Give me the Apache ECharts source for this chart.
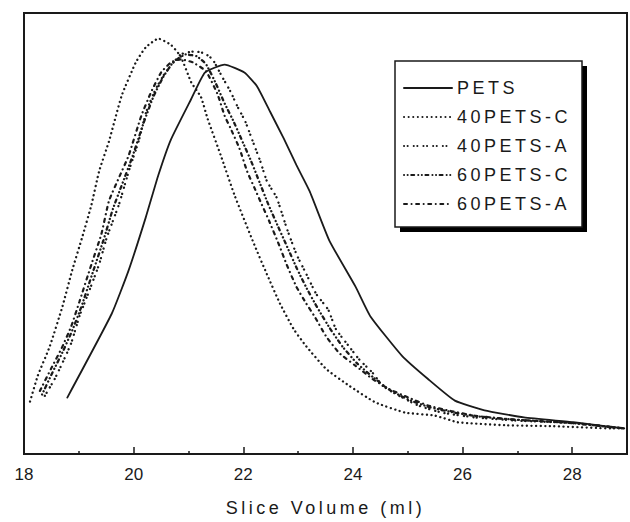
<!DOCTYPE html>
<html>
<head>
<meta charset="utf-8">
<script src="https://cdn.jsdelivr.net/npm/echarts@6/dist/echarts.min.js"></script>
<style>
html,body{margin:0;padding:0;background:#fff;}
#c{width:630px;height:522px;}
#c text[style*="18px"]{letter-spacing:3.5px;}
</style>
</head>
<body>
<div id="c"></div>
<script>
// Slice volume (ml) and relative detector response (0-100, no y scale shown)
const seriesNames = ['PETS', '40PETS-C', '40PETS-A', '60PETS-C', '60PETS-A'];
const xTicks = [18, 20, 22, 24, 26, 28];

const petsX = [18.79,19.60,19.91,20.22,20.45,20.68,21.05,21.30,21.66,22.02,22.25,22.49,22.74,22.97,23.21,23.57,24.05,24.32,24.90,25.37,25.86,26.40,27.12,28.02,28.74,28.95];
const petsY = [12.8,31.8,41.7,53.6,63.2,71.3,80.5,86.5,88.3,86.5,83.4,77.6,71.5,65.5,59.6,48.4,37.9,31.2,22.2,17.0,12.1,9.9,8.3,7.2,6.1,5.8];

const p40cX = [18.11,18.25,18.47,18.70,18.88,19.06,19.23,19.37,19.55,19.78,20.04,20.22,20.45,20.68,20.86,21.05,21.23,21.35,21.59,21.84,22.20,22.43,22.67,22.92,23.15,23.51,23.93,24.41,24.95,25.50,25.91,26.81,27.66,28.74,28.95];
const p40cY = [11.9,17.7,24.4,33.4,41.7,49.1,56.5,64.1,70.9,81.2,88.8,92.2,94.2,92.8,90.1,84.3,80.9,76.0,67.7,58.7,47.5,40.8,34.1,28.3,24.4,19.3,15.5,11.7,9.4,8.7,7.2,6.5,6.3,5.8,5.8];

const p40aX = [18.38,18.56,18.70,18.86,19.01,19.15,19.37,19.51,19.73,19.91,20.09,20.23,20.40,20.58,20.86,21.12,21.30,21.44,21.62,21.77,21.89,22.04,22.20,22.31,22.43,22.61,22.79,22.97,23.15,23.33,23.55,23.69,23.93,24.11,24.36,24.54,24.77,25.19,25.62,26.22,26.94,28.02,28.95];
const p40aY = [13.2,17.0,20.6,25.1,31.2,35.7,43.0,49.1,56.5,64.1,70.9,77.6,82.7,86.5,90.6,91.3,90.8,89.5,85.4,82.1,78.9,75.3,70.0,66.4,61.9,58.1,51.3,45.3,40.8,36.3,32.7,28.3,24.4,21.5,18.4,15.5,13.7,11.0,9.4,8.3,7.6,7.0,5.8];

const p60cX = [18.33,18.52,18.70,18.88,19.05,19.25,19.45,19.62,19.80,19.98,20.18,20.36,20.54,20.72,20.95,21.15,21.32,21.50,21.66,21.82,21.98,22.14,22.30,22.46,22.62,22.80,22.98,23.16,23.36,23.58,23.82,24.08,24.36,24.66,25.00,25.40,25.80,26.30,26.94,28.02,28.95];
const p60cY = [13.5,18.5,23.0,28.0,33.5,41.0,48.5,55.5,61.5,67.5,75.0,81.0,85.5,88.8,90.6,90.2,88.4,84.0,79.5,75.5,71.0,66.5,61.5,56.5,52.0,47.0,42.0,37.5,33.0,28.5,24.2,20.5,17.5,14.6,12.4,10.6,9.5,8.5,7.8,7.0,5.8];

const p60aX = [18.29,18.50,18.68,18.86,19.01,19.23,19.41,19.55,19.73,19.91,20.14,20.32,20.50,20.68,20.86,21.08,21.32,21.53,21.66,21.77,21.93,22.07,22.22,22.34,22.47,22.65,22.79,22.97,23.15,23.30,23.51,23.75,24.05,24.36,24.65,25.01,25.37,25.73,26.22,26.94,28.02,28.95];
const p60aY = [14.3,19.5,23.8,28.9,34.5,43.0,49.8,57.4,62.6,67.7,76.7,82.1,86.5,88.8,89.5,88.8,86.8,81.6,76.7,73.8,69.3,64.1,59.9,56.5,52.9,47.5,43.0,37.9,34.1,31.2,26.7,22.9,20.0,17.0,14.8,12.8,11.0,9.9,8.7,7.8,7.0,5.8];

const xsList = [petsX, p40cX, p40aX, p60cX, p60aX];
const ysList = [petsY, p40cY, p40aY, p60cY, p60aY];
const dashes = ['solid', [0.1, 4.5], [0.1, 3.5, 0.1, 6], [0.1, 3.5, 0.1, 3.5, 3, 4], [3, 4.5, 0.1, 4.5]];
const widths = [1.8, 2.3, 2.3, 2.3, 2.2];

const chart = echarts.init(document.getElementById('c'), null, {renderer: 'svg'});
const series = seriesNames.map((n, i) => ({
  name: n,
  type: 'line',
  symbol: 'none',
  smooth: 0.15,
  data: xsList[i].map((x, j) => [x, ysList[i][j]]),
  lineStyle: {color: '#1a1a1a', width: widths[i], type: dashes[i], cap: 'round'},
  itemStyle: {color: '#1a1a1a'}
}));

chart.setOption({
  animation: false,
  backgroundColor: '#fff',
  grid: {left: 24, right: -4, top: 13, bottom: 63, show: true, borderColor: '#1a1a1a', borderWidth: 2},
  xAxis: {
    type: 'value', min: 18, max: 29, interval: 2,
    name: 'Slice Volume (ml)', nameLocation: 'middle', nameGap: 45,
    nameTextStyle: {fontSize: 18, fontFamily: 'Liberation Sans', color: '#1a1a1a'},
    axisLine: {show: true, lineStyle: {color: '#1a1a1a', width: 2}},
    axisTick: {show: true, inside: true, length: 7, lineStyle: {color: '#1a1a1a', width: 1.5}},
    minorTick: {show: true, splitNumber: 2, length: 3, lineStyle: {color: '#1a1a1a', width: 1.5}},
    axisLabel: {fontSize: 17, fontFamily: 'Liberation Sans', color: '#1a1a1a', margin: 12,
      formatter: v => xTicks.includes(v) ? String(v) : ''},
    splitLine: {show: false}
  },
  yAxis: {
    type: 'value', min: 0, max: 100,
    axisLine: {show: true, lineStyle: {color: '#1a1a1a', width: 2}},
    axisTick: {show: false}, axisLabel: {show: false}, splitLine: {show: false}
  },
  graphic: [
    {type: 'rect', z: 1, shape: {x: 400, y: 66, width: 187, height: 166}, style: {fill: '#000'}},
    {type: 'rect', z: 2, shape: {x: 395, y: 61, width: 187, height: 166}, style: {fill: '#fff', stroke: '#1a1a1a', lineWidth: 1.5}}
  ],
  legend: {
    orient: 'vertical', left: 403, top: 79, padding: 0,
    itemWidth: 48, itemHeight: 14, itemGap: 11, z: 10,
    data: seriesNames,
    itemStyle: {opacity: 0},
    textStyle: {fontSize: 18, lineHeight: 18, fontFamily: 'Liberation Sans', color: '#1a1a1a'}
  },
  series: series
});
</script>
</body>
</html>
